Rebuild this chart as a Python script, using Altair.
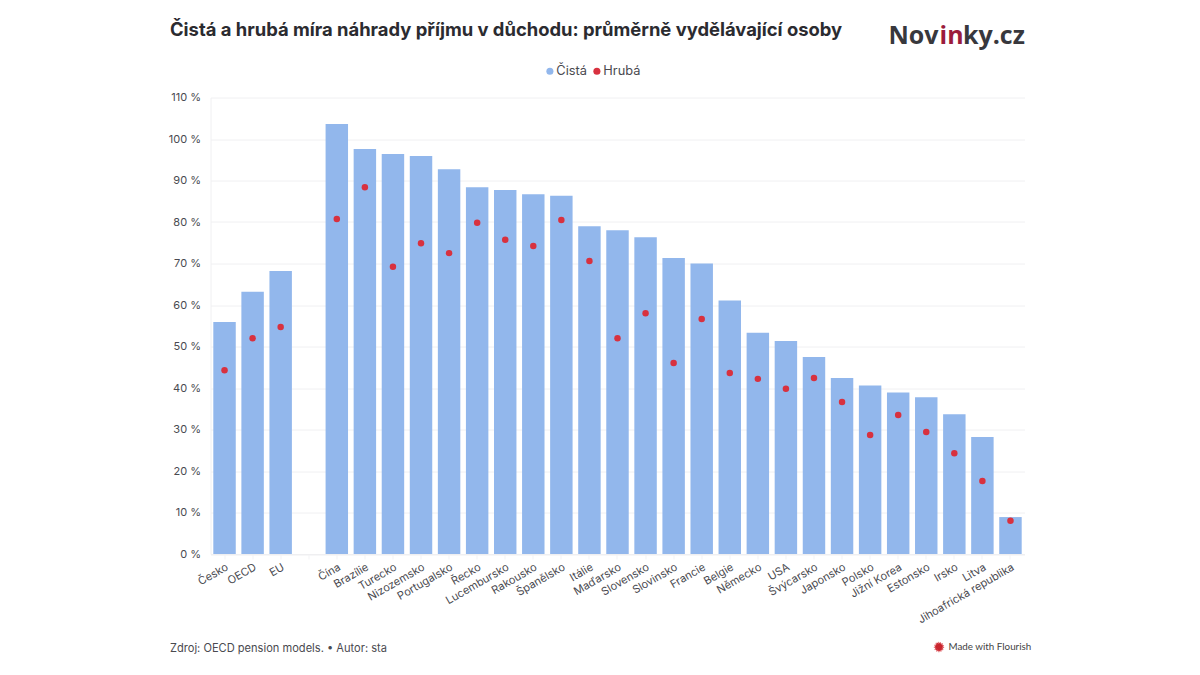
import altair as alt
import pandas as pd

categories = ["Česko", "OECD", "EU", " ", "Čína", "Brazílie", "Turecko", "Nizozemsko", "Portugalsko",
              "Řecko", "Lucembursko", "Rakousko", "Španělsko", "Itálie", "Maďarsko", "Slovensko",
              "Slovinsko", "Francie", "Belgie", "Německo", "USA", "Švýcarsko", "Japonsko", "Polsko",
              "Jižní Korea", "Estonsko", "Irsko", "Litva", "Jihoafrická republika"]
cista = [55.9, 63.2, 68.2, None, 103.6, 97.6, 96.4, 95.9, 92.7, 88.4, 87.7, 86.7, 86.3, 79.0, 78.0,
         76.3, 71.3, 70.0, 61.1, 53.3, 51.3, 47.5, 42.4, 40.6, 38.9, 37.8, 33.7, 28.2, 8.9]
hruba = [44.3, 52.0, 54.7, None, 80.7, 88.4, 69.2, 74.9, 72.5, 79.8, 75.7, 74.2, 80.5, 70.6, 52.0,
         58.0, 46.0, 56.6, 43.6, 42.2, 39.8, 42.4, 36.6, 28.7, 33.5, 29.4, 24.3, 17.6, 8.0]
y_ticks = list(range(0, 111, 10))

BLUE = "#92b7ec"
RED = "#d8313f"
FONT = "Inter"
TXT = "#4a4a50"

df = pd.DataFrame({"zeme": categories, "Čistá": cista, "Hrubá": hruba})
dfl = df[df["zeme"] != " "].melt("zeme", var_name="serie", value_name="hodnota")

xenc = alt.X("zeme:N", sort=categories, scale=alt.Scale(domain=categories, paddingInner=0.2, paddingOuter=0.1),
             axis=alt.Axis(title=None, labelAngle=-30, labelAlign="right", labelBaseline="top", labelFont=FONT,
                           labelFontSize=11, labelColor=TXT, labelPadding=2, domainColor="#efeff1",
                           tickColor="#f3f3f5", tickSize=5, labelOverlap=False, grid=False))
yenc = alt.Y("hodnota:Q", scale=alt.Scale(domain=[0, 110], nice=False),
             axis=alt.Axis(title=None, values=y_ticks, labelExpr="datum.value + ' %'", labelFont=FONT,
                           labelFontSize=11, labelColor=TXT, labelPadding=10, ticks=False, domain=True,
                           domainColor="#f0f0f2", gridColor="#f0f0f2", grid=True))
color = alt.Color("serie:N", scale=alt.Scale(domain=["Čistá", "Hrubá"], range=[BLUE, RED]),
                  legend=alt.Legend(title=None, orient="none", legendX=333, legendY=-33, direction="horizontal",
                                    symbolType="circle", symbolSize=50, symbolStrokeWidth=0, labelFont=FONT,
                                    labelFontSize=12.8, labelColor=TXT, columnPadding=3, labelOffset=0))

bars = alt.Chart(dfl[dfl.serie == "Čistá"]).mark_bar(opacity=1).encode(x=xenc, y=yenc, color=color)
dots = alt.Chart(dfl[dfl.serie == "Hrubá"]).mark_point(filled=True, size=42, opacity=1, shape="circle").encode(
    x=alt.X("zeme:N", sort=categories), y="hodnota:Q", color=color)


def note(text, x, y, size, col=TXT, weight="normal", font=FONT, align="left"):
    return alt.Chart(alt.Data(values=[{}])).mark_text(
        text=text, fontSize=size, color=col, fontWeight=weight, font=font, align=align, baseline="middle"
    ).encode(x=alt.value(x), y=alt.value(y))


texts = [
    note("Čistá a hrubá míra náhrady příjmu v důchodu: průměrně vydělávající osoby", -40.5, -67.5, 18.4, "#2b2b30", "bold"),
    note("Zdroj: OECD pension models. • Autor: sta", -40.5, 551, 11.1),
    note("Nov", 678, -62, 25, "#38383d", "bold", "Open Sans"),
    note("in", 729, -62, 25, "#9b1c3c", "bold", "Open Sans"),
    note("ky.cz", 752.5, -62, 25, "#38383d", "bold", "Open Sans"),
    note("Made with Flourish", 738, 549.5, 9.8, "#444444", "normal", "Lato"),
]
logo = alt.Chart(alt.Data(values=[{}])).mark_point(
    filled=True, size=70, color="#c9252e", stroke="#e26b70", strokeWidth=2, strokeDash=[1, 1], opacity=1
).encode(x=alt.value(728.5), y=alt.value(549.5))

chart = alt.layer(bars, dots, *texts, logo).resolve_scale(x="shared", y="shared").properties(
    width=814, height=456.5,
    padding={"left": 202.5, "top": 89.5, "right": 160, "bottom": 110},
    autosize=alt.AutoSizeParams(type="none"),
    background="white",
).configure_view(stroke=None)

chart.save("out.html", embed_options={"renderer": "svg", "actions": False})
